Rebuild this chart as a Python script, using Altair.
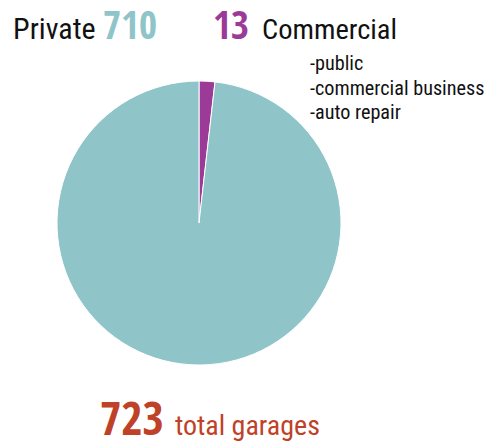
import altair as alt
import pandas as pd

categories = ["Commercial", "Private"]
counts = [13, 710]
colors = ["#9c3b97", "#8fc4c9"]
sub_types = ["-public", "-commercial business", "-auto repair"]
total_label = "total garages"

REG = "Roboto Condensed, DejaVu Sans Condensed, sans-serif"
BOLD = "Open Sans Condensed, Roboto Condensed, sans-serif"

pie_df = pd.DataFrame({"category": categories, "count": counts, "ord": [0, 1]})

pie = alt.Chart(pie_df).mark_arc(outerRadius=142, stroke="white", strokeWidth=1).encode(
    theta=alt.Theta("count:Q", stack=True),
    color=alt.Color("category:N", scale=alt.Scale(domain=categories, range=colors), legend=None),
    order=alt.Order("ord:Q"),
    x=alt.value(191),
    y=alt.value(215),
)


def label(text, x, y, size, color, bold=False):
    return alt.Chart(pd.DataFrame({"t": [text]})).mark_text(
        align="left", baseline="alphabetic", font=BOLD if bold else REG, fontSize=size,
        fontWeight="bold" if bold else "normal", color=color,
    ).encode(text="t:N", x=alt.value(x), y=alt.value(y))


layers = [
    pie,
    label(categories[1], 5, 31, 30, "#111111"),
    label(str(counts[1]), 95, 31, 39, colors[1], bold=True),
    label(str(counts[0]), 205, 31, 39, colors[0], bold=True),
    label(categories[0], 254, 31, 28.5, "#111111"),
]
for i, s in enumerate(sub_types):
    layers.append(label(s, 302, 62 + 24.5 * i, 20.2, "#111111"))
layers.append(label(str(sum(counts)), 92, 427, 46, "#bf4128", bold=True))
layers.append(label(total_label, 167, 427, 28, "#bf4128"))

chart = alt.layer(*layers).properties(
    width=477, height=431, padding=0, background="white"
).configure_view(stroke=None)

chart.save("out.html", embed_options={"renderer": "svg", "actions": False})
